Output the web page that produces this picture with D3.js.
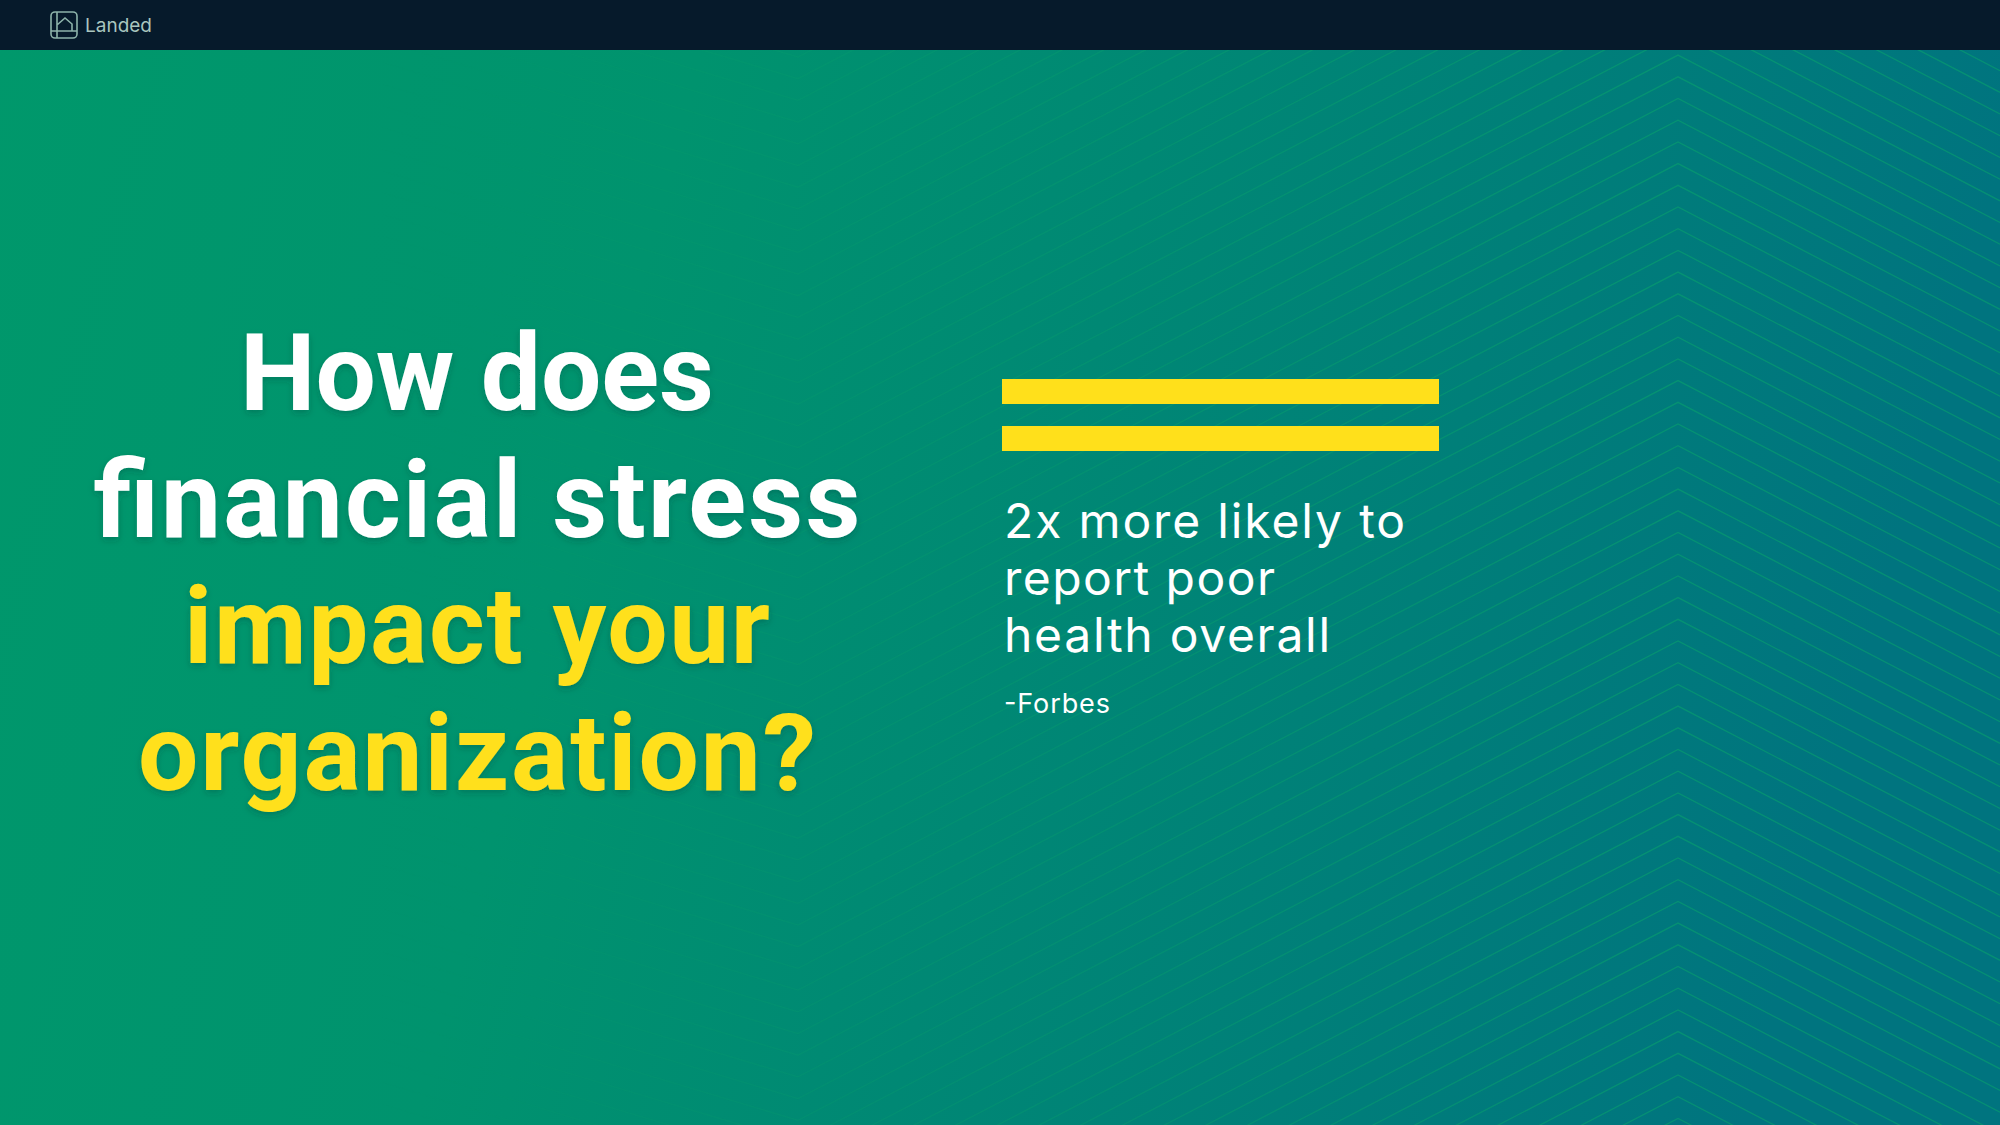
<!DOCTYPE html>
<html lang="en">
<head>
<meta charset="UTF-8">
<title>Financial stress</title>
<script src="https://d3js.org/d3.v7.min.js"></script>
<style>
    body { margin: 0; background: #061a2b; overflow: hidden; }
    svg { display: block; }
</style>
</head>
<body>
<svg id="slide" width="2000" height="1125"></svg>
<script>
// slide content
let brand = 'Landed'
let headline = ['How does', 'financial stress', 'impact your', 'organization?']
let headlineTone = ['white', 'white', 'accent', 'accent']
let bars = ['upper', 'lower']
let quote = ['2x more likely to', 'report poor', 'health overall']
let source = '-Forbes'

let width = 2000
let height = 1125
let headerH = 50
let yellow = '#ffe01b'

let svg = d3.select('#slide')
let defs = svg.append('defs')

// background gradient, green to teal
let bg = defs.append('linearGradient').attr('id', 'bg')
    .attr('x1', 0).attr('y1', 0).attr('x2', 1).attr('y2', 0.15)
bg.append('stop').attr('offset', '0%').attr('stop-color', '#00986b')
bg.append('stop').attr('offset', '35%').attr('stop-color', '#00936e')
bg.append('stop').attr('offset', '100%').attr('stop-color', '#00747f')

let fade = defs.append('linearGradient').attr('id', 'fade')
    .attr('gradientUnits', 'userSpaceOnUse')
    .attr('x1', 380).attr('y1', 0).attr('x2', 1650).attr('y2', 0)
fade.append('stop').attr('offset', '0%').attr('stop-color', 'white').attr('stop-opacity', 0)
fade.append('stop').attr('offset', '100%').attr('stop-color', 'white').attr('stop-opacity', 1)
defs.append('mask').attr('id', 'fadeMask')
    .append('rect').attr('width', width).attr('height', height).attr('fill', 'url(#fade)')

let shadow = defs.append('filter').attr('id', 'shadow')
    .attr('x', '-5%').attr('y', '-10%').attr('width', '110%').attr('height', '130%')
shadow.append('feDropShadow').attr('dx', 0).attr('dy', 3).attr('stdDeviation', 3)
    .attr('flood-color', '#00302a').attr('flood-opacity', 0.25)

svg.append('rect').attr('width', width).attr('height', height).attr('fill', 'url(#bg)')

// chevron lines in the background
let trough = 798, peak = 1678, step = 21.7
let line = d3.line()
let rows = d3.range(-40, 75)
svg.append('g').attr('mask', 'url(#fadeMask)')
    .selectAll('path')
    .data(rows)
    .join('path')
    .attr('d', k => {
        let y0 = 57 + k * step
        return line([
            [0, y0 - 0.3 * trough],
            [trough, y0],
            [peak, y0 - 0.52 * (peak - trough)],
            [width, y0 - 0.52 * (peak - trough) + 0.52 * (width - peak)]
        ])
    })
    .attr('fill', 'none')
    .attr('stroke', '#0aa56c')
    .attr('stroke-opacity', 0.55)
    .attr('stroke-width', 1.3)

// header bar
let header = svg.append('g')
header.append('rect').attr('width', width).attr('height', headerH).attr('fill', '#061a2b')
let icon = header.append('g')
    .attr('fill', 'none').attr('stroke', '#8db3aa').attr('stroke-width', 1.6)
icon.append('rect').attr('x', 51).attr('y', 12).attr('width', 26).attr('height', 26).attr('rx', 4)
icon.append('path').attr('d', 'M57 12V38M51 31H77M57 25L65 18L72 24V31')
header.append('text')
    .attr('x', 85).attr('y', 32)
    .attr('font-family', 'Inter, Roboto, sans-serif')
    .attr('font-size', 19)
    .attr('fill', '#a9c6bf')
    .text(brand)

// headline
let headY = d3.scalePoint().domain(headline).range([410, 790])
let headFit = { 'How does': 474, 'financial stress': 767, 'impact your': 586, 'organization?': 678 }
svg.append('g')
    .attr('filter', 'url(#shadow)')
    .selectAll('text')
    .data(headline)
    .join('text')
    .attr('x', 477)
    .attr('y', d => headY(d))
    .attr('text-anchor', 'middle')
    .attr('font-family', 'Roboto, sans-serif')
    .attr('font-weight', 700)
    .attr('font-size', 107)
    .attr('textLength', d => headFit[d])
    .attr('lengthAdjust', 'spacing')
    .attr('fill', (d, i) => headlineTone[i] === 'accent' ? yellow : '#ffffff')
    .text(d => d)

// yellow bars
let barY = d3.scaleBand().domain(bars).range([379, 451]).paddingInner(0.468)
svg.append('g')
    .selectAll('rect')
    .data(bars)
    .join('rect')
    .attr('x', 1002)
    .attr('y', d => barY(d))
    .attr('width', 437)
    .attr('height', barY.bandwidth())
    .attr('fill', yellow)

// quote
let quoteY = d3.scalePoint().domain(quote).range([538, 652])
let quoteFit = { '2x more likely to': 401, 'report poor': 271, 'health overall': 326 }
svg.append('g')
    .selectAll('text')
    .data(quote)
    .join('text')
    .attr('x', 1004)
    .attr('y', d => quoteY(d))
    .attr('font-family', 'Inter, sans-serif')
    .attr('font-weight', 400)
    .attr('font-size', 48)
    .attr('textLength', d => quoteFit[d])
    .attr('lengthAdjust', 'spacing')
    .attr('fill', '#ffffff')
    .text(d => d)

svg.append('text')
    .attr('x', 1004)
    .attr('y', 713)
    .attr('font-family', 'Inter, sans-serif')
    .attr('font-size', 27)
    .attr('textLength', 106)
    .attr('lengthAdjust', 'spacing')
    .attr('fill', '#ffffff')
    .text(source)
</script>
</body>
</html>
